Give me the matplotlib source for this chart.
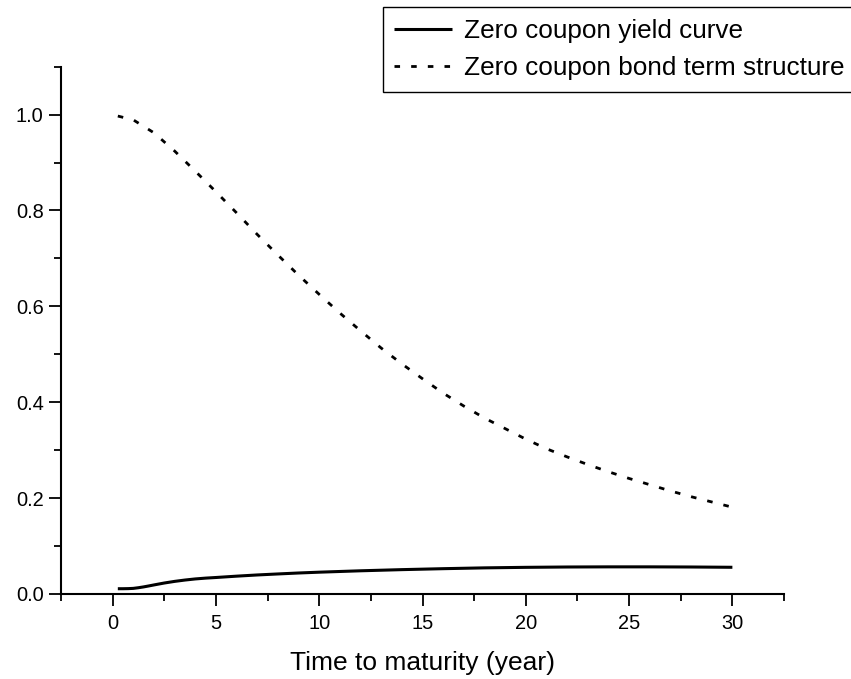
import numpy as np
import matplotlib.pyplot as plt
from matplotlib.ticker import MultipleLocator

plt.rcParams['font.family'] = ['Liberation Sans', 'DejaVu Sans']
plt.rcParams['lines.scale_dashes'] = False

# zero coupon yield curve (continuously compounded rate)
yield_t = [0.25, 0.5, 0.75, 1, 1.25, 1.5, 1.75, 2, 2.5, 3, 3.5, 4, 4.5, 5, 6, 7, 8, 9, 10,
           12, 14, 16, 18, 20, 22, 24, 26, 28, 30]
yield_r = [0.011, 0.011, 0.0112, 0.0117, 0.0131, 0.0148, 0.0168, 0.0189, 0.0229, 0.0263,
           0.0291, 0.0314, 0.0331, 0.0344, 0.0372, 0.0397, 0.0418, 0.0438, 0.0455,
           0.0484, 0.0508, 0.0528, 0.0545, 0.0556, 0.0563, 0.0566, 0.0566, 0.0563, 0.0557]

# zero coupon bond prices (discount factors)
bond_t = [0.25, 1, 2, 3, 4, 5, 6, 7, 8, 9, 10, 11, 12, 13, 14, 15, 16, 17, 18, 19, 20,
          21, 22, 23, 24, 25, 26, 27, 28, 29, 30]
bond_p = [0.997, 0.989, 0.962, 0.924, 0.882, 0.839, 0.795, 0.750, 0.707, 0.665, 0.625, 0.586,
          0.549, 0.513, 0.480, 0.449, 0.419, 0.392, 0.367, 0.345, 0.323, 0.303, 0.286, 0.270,
          0.255, 0.241, 0.228, 0.215, 0.203, 0.192, 0.181]

fig = plt.figure(figsize=(8.51, 6.79), dpi=100)
ax = fig.add_axes([0.0717, 0.1252, 0.8496, 0.7766])

l1, = ax.plot(yield_t, yield_r, color='black', lw=2.2, solid_capstyle='butt')
l2, = ax.plot(bond_t, bond_p, color='black', lw=2.0, linestyle=(0, (4.0, 8.0)))

ax.set_xlim(-2.5, 32.5)
ax.set_ylim(0, 1.1)
ax.xaxis.set_major_locator(MultipleLocator(5))
ax.xaxis.set_minor_locator(MultipleLocator(2.5))
ax.yaxis.set_major_locator(MultipleLocator(0.2))
ax.yaxis.set_minor_locator(MultipleLocator(0.1))
ax.set_xticks([0, 5, 10, 15, 20, 25, 30])

for side in ['top', 'right']:
    ax.spines[side].set_visible(False)
for side in ['left', 'bottom']:
    ax.spines[side].set_linewidth(1.5)

ax.tick_params(which='major', direction='out', length=8.5, width=1.3, labelsize=14.4)
ax.tick_params(which='minor', direction='out', length=5, width=1.3)
ax.tick_params(axis='x', which='major', pad=6)
ax.tick_params(axis='y', which='major', pad=4)
ax.set_xlabel('Time to maturity (year)', fontsize=19, labelpad=13)

fig.legend([l1, l2], ['Zero coupon yield curve', 'Zero coupon bond term structure'],
           loc='upper left', bbox_to_anchor=(382.7 / 851, 1 - 7.3 / 679),
           fontsize=18.8, frameon=True, fancybox=False, framealpha=1, edgecolor='black',
           handlelength=2.2, handletextpad=0.45, borderpad=0.45, labelspacing=0.5,
           borderaxespad=0)

fig.savefig('out.png', dpi=100)
